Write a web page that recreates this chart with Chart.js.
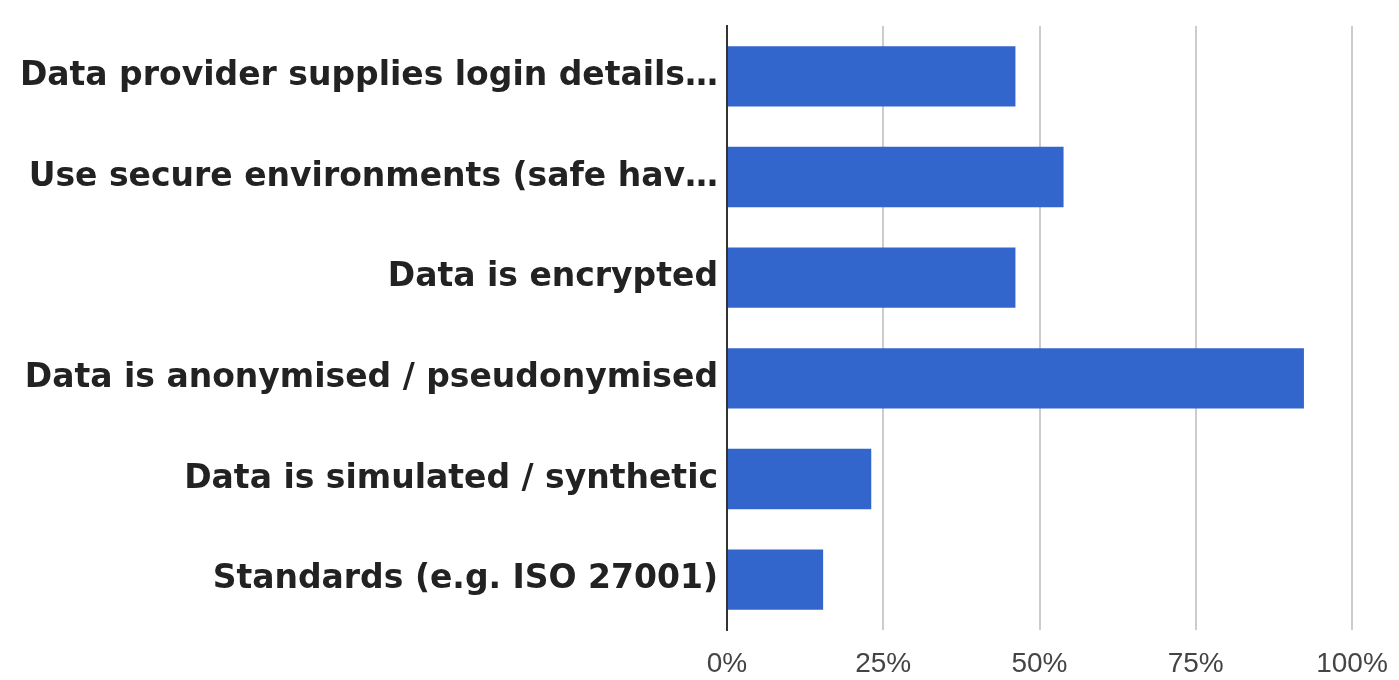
<!DOCTYPE html>
<html>
<head>
<meta charset="utf-8">
<script src="https://cdn.jsdelivr.net/npm/chart.js@4.4.0/dist/chart.umd.min.js"></script>
<style>
  html, body { margin: 0; padding: 0; background: #fff; }
  #wrap { width: 1399px; height: 680px; }
</style>
</head>
<body>
<div id="wrap"><canvas id="barChart" width="1399" height="680"></canvas></div>
<script>
// answers out of 13 respondents, shown as percent
const categories = [
  "Data provider supplies login details…",
  "Use secure environments (safe hav…",
  "Data is encrypted",
  "Data is anonymised / pseudonymised",
  "Data is simulated / synthetic",
  "Standards (e.g. ISO 27001)"
];
const percentValues = [46.15, 53.85, 46.15, 92.31, 23.08, 15.38];
const tickValues = [0, 25, 50, 75, 100];

const ctx = document.getElementById("barChart").getContext("2d");
const chart = new Chart(ctx, {
  type: "bar",
  data: {
    labels: categories,
    datasets: [
      {
        data: percentValues,
        backgroundColor: "#3366cc",
        barPercentage: 0.6,
        categoryPercentage: 1.0,
      },
    ],
  },
  options: {
    indexAxis: "y",
    responsive: false,
    animation: false,
    layout: { padding: { top: 26, right: 47, bottom: 0, left: 0 } },
    plugins: {
      legend: { display: false },
      tooltip: { enabled: false },
    },
    scales: {
      x: {
        min: 0,
        max: 100,
        afterBuildTicks: (scale) => {
          scale.ticks = tickValues.map((v) => ({ value: v }));
        },
        afterFit: (scale) => {
          scale.height = 50;
          // keep the plot edge fixed, the last label just hangs over
          scale.paddingLeft = 0;
          scale.paddingRight = 0;
        },
        grid: { color: "#cccccc", lineWidth: 2, drawTicks: false },
        border: { display: false },
        ticks: {
          padding: 17,
          color: "#444444",
          font: { family: "Liberation Sans", size: 28 },
          callback: (v) => v + "%",
        },
      },
      y: {
        afterFit: (scale) => {
          scale.width = 727;
          scale.paddingTop = 0;
          scale.paddingBottom = 0;
        },
        grid: { display: false, drawTicks: false },
        border: { display: true, color: "#333333", width: 2 },
        ticks: {
          padding: 9,
          color: "#222222",
          font: { family: "DejaVu Sans", size: 33, weight: "bold" },
        },
      },
    },
  },
});
</script>
</body>
</html>
